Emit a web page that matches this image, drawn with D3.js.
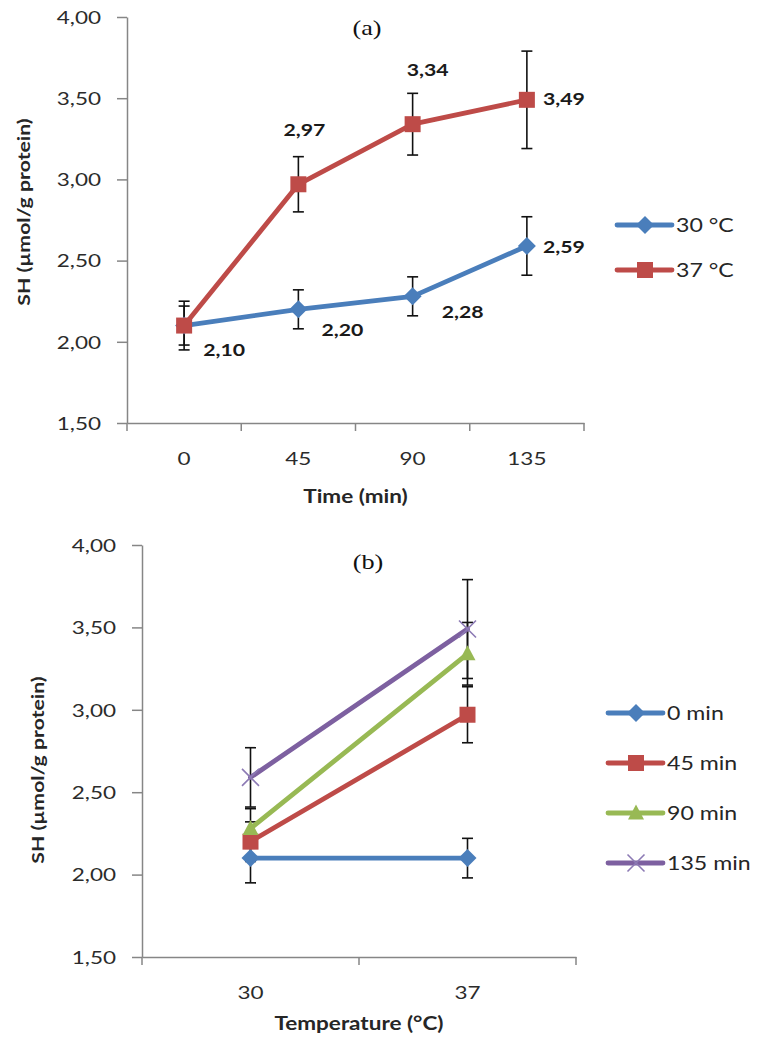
<!DOCTYPE html>
<html><head><meta charset="utf-8">
<script src="https://cdn.jsdelivr.net/npm/d3@7"></script>
<style>
body{margin:0;background:#fff}
svg{display:block}
text{font-family:Lato,"Open Sans",sans-serif;}
</style>
</head><body>
<svg id="c" width="761" height="1043"></svg>
<script>
// ---------- data ----------
const timeCats = ["0", "45", "90", "135"];
const series30C = [2.10, 2.20, 2.28, 2.59];
const series37C = [2.10, 2.97, 3.34, 3.49];
const err30C = [0.15, 0.12, 0.12, 0.18];
const err37C = [0.12, 0.17, 0.19, 0.30];
const show30C = [true, true, true, true];
const show37C = [false, true, true, true];

const tempCats = ["30", "37"];
const min0 = [2.10, 2.10];
const min45 = [2.20, 2.97];
const min90 = [2.28, 3.34];
const min135 = [2.59, 3.49];
const errMin0 = [0.15, 0.12];
const errMin45 = [0.12, 0.17];
const errMin90 = [0.12, 0.19];
const errMin135 = [0.18, 0.30];

const yTicks = [1.5, 2.0, 2.5, 3.0, 3.5, 4.0];
const yDomain = [1.5, 4.0];

// ---------- layout / style ----------
const SX = 1.25;
const C = {blue: "#4A7EBB", red: "#BE4B48", green: "#98B954", purple: "#7D60A0"};
const labelOffsets30C = [[19, 30], [23, 27], [29, 22], [16, 7]];
const labelOffsets37C = [null, [-15, -48], [-6, -48], [16, 5]];

const fmt = v => d3.format(".2f")(v).replace(".", ",");
const svg = d3.select("#c");

function stretch(sel) {
  sel.each(function () {
    const t = d3.select(this);
    const x = +t.attr("x") || 0, y = +t.attr("y") || 0;
    t.attr("x", null).attr("y", null)
     .attr("transform", `translate(${x},${y}) scale(${SX},1)`);
  });
}

function marker(g, type, x, y, color) {
  if (type === "diamond") {
    const r = 9;
    g.append("path").attr("d", `M${x},${y - r}L${x + r},${y}L${x},${y + r}L${x - r},${y}Z`).attr("fill", color);
  } else if (type === "square") {
    const s = 16;
    g.append("rect").attr("x", x - s / 2).attr("y", y - s / 2).attr("width", s).attr("height", s).attr("fill", color);
  } else if (type === "triangle") {
    g.append("path").attr("d", `M${x},${y - 8.5}L${x + 8},${y + 6.5}L${x - 8},${y + 6.5}Z`).attr("fill", color);
  } else if (type === "x") {
    const r = 8.5;
    g.append("path").attr("d", `M${x - r},${y - r}L${x + r},${y + r}M${x - r},${y + r}L${x + r},${y - r}`)
      .attr("stroke", "#8C7AB4").attr("stroke-width", 1.6).attr("fill", "none");
  }
}

function drawPanel(cfg) {
  const g = svg.append("g");
  const x = d3.scaleBand().domain(cfg.cats).range([cfg.x0, cfg.x1]);
  const y = d3.scaleLinear().domain(yDomain).range([cfg.y0, cfg.y1]);
  const axisColor = "#868686";

  // y axis
  const ya = g.append("g").attr("transform", `translate(${cfg.x0},0)`)
    .call(d3.axisLeft(y).tickValues(yTicks).tickFormat(fmt).tickSize(10).tickPadding(16).tickSizeOuter(0));
  ya.select(".domain").attr("stroke", axisColor).attr("stroke-width", 1.5);
  ya.selectAll(".tick line").attr("stroke", axisColor).attr("stroke-width", 1.5);
  ya.selectAll(".tick text").attr("font-size", 18).attr("fill", "#2b2b2b").attr("dy", "0.35em");
  stretch(ya.selectAll(".tick text"));

  // x axis
  const xa = g.append("g").attr("transform", `translate(0,${cfg.y0})`)
    .call(d3.axisBottom(x).tickSize(0).tickPadding(29).tickSizeOuter(0));
  xa.select(".domain").attr("stroke", axisColor).attr("stroke-width", 1.5);
  xa.selectAll(".tick text").attr("font-size", 18).attr("fill", "#2b2b2b");
  stretch(xa.selectAll(".tick text"));
  const bounds = cfg.cats.map(c => x(c)).concat([x(cfg.cats[cfg.cats.length - 1]) + x.bandwidth()]);
  xa.selectAll(".bt").data(bounds).enter().append("line")
    .attr("x1", d => d).attr("x2", d => d).attr("y1", 0).attr("y2", 8)
    .attr("stroke", axisColor).attr("stroke-width", 1.5);

  // axis titles
  g.append("text").attr("x", (cfg.x0 + cfg.x1) / 2).attr("y", cfg.y0 + cfg.xTitleDy)
    .attr("text-anchor", "middle").attr("font-size", 18).attr("font-weight", "bold").attr("fill", "#262626")
    .text(cfg.xTitle).call(stretch);
  g.append("text").attr("transform", `translate(${cfg.yTitleX},${cfg.yTitleY}) rotate(-90) scale(${SX},1)`)
    .attr("text-anchor", "middle").attr("dy", "0.35em").attr("font-size", 17).attr("font-weight", "bold").attr("fill", "#262626")
    .text("SH (µmol/g protein)");

  // panel label
  g.append("text").attr("x", cfg.plX).attr("y", cfg.plY).attr("text-anchor", "middle")
    .style("font-family", "'Liberation Serif','DejaVu Serif',serif").style("font-size", "21px").attr("fill", "#111")
    .text(cfg.panelLabel).call(stretch);

  const cx = c => x(c) + x.bandwidth() / 2;

  // error bars
  cfg.series.forEach(s => {
    s.values.forEach((v, i) => {
      const px = cx(cfg.cats[i]);
      const e = s.errs[i];
      g.append("line").attr("x1", px).attr("x2", px).attr("y1", y(v - e)).attr("y2", y(v + e))
        .attr("stroke", "#111").attr("stroke-width", 1.6);
      [v - e, v + e].forEach(t => g.append("line").attr("x1", px - 5.5).attr("x2", px + 5.5)
        .attr("y1", y(t)).attr("y2", y(t)).attr("stroke", "#111").attr("stroke-width", 1.6));
    });
  });

  // lines and markers
  cfg.series.forEach(s => {
    const pts = s.values.map((v, i) => [cx(cfg.cats[i]), y(v)]);
    g.append("path").attr("d", d3.line()(pts)).attr("fill", "none").attr("stroke", s.color)
      .attr("stroke-width", 4.8).attr("stroke-linejoin", "round").attr("stroke-linecap", "round");
    pts.forEach(p => marker(g, s.marker, p[0], p[1], s.color));
  });

  // data labels
  cfg.series.forEach(s => {
    if (!s.show) return;
    s.values.forEach((v, i) => {
      if (!s.show[i]) return;
      const o = s.offsets[i];
      g.append("text").attr("x", cx(cfg.cats[i]) + o[0]).attr("y", y(v) + o[1])
        .attr("font-size", 17).attr("font-weight", "bold").attr("fill", "#1a1a1a")
        .text(fmt(v)).call(stretch);
    });
  });

  // legend
  cfg.series.forEach((s, k) => {
    const ly = cfg.legY + k * cfg.legStep;
    const lg = g.append("g");
    lg.append("line").attr("x1", cfg.legX).attr("x2", cfg.legX + 55).attr("y1", ly).attr("y2", ly)
      .attr("stroke", s.color).attr("stroke-width", 4.8).attr("stroke-linecap", "round");
    marker(lg, s.marker, cfg.legX + 28, ly, s.color);
    lg.append("text").attr("x", cfg.legX + 59).attr("y", ly).attr("dy", "0.36em")
      .attr("font-size", 18.5).attr("fill", "#262626").text(s.name).call(stretch);
  });
}

drawPanel({
  cats: timeCats, x0: 127, x1: 584, y0: 423, y1: 17,
  xTitle: "Time (min)", xTitleDy: 80, yTitleX: 24, yTitleY: 212,
  panelLabel: "(a)", plX: 367, plY: 35,
  legX: 617, legY: 225, legStep: 45,
  series: [
    {name: "30 °C", values: series30C, errs: err30C, color: C.blue, marker: "diamond", show: show30C, offsets: labelOffsets30C},
    {name: "37 °C", values: series37C, errs: err37C, color: C.red, marker: "square", show: show37C, offsets: labelOffsets37C}
  ]
});

drawPanel({
  cats: tempCats, x0: 142, x1: 576, y0: 957, y1: 545,
  xTitle: "Temperature (°C)", xTitleDy: 73, yTitleX: 38, yTitleY: 770,
  panelLabel: "(b)", plX: 368, plY: 569,
  legX: 608, legY: 713, legStep: 50,
  series: [
    {name: "0 min", values: min0, errs: errMin0, color: C.blue, marker: "diamond"},
    {name: "45 min", values: min45, errs: errMin45, color: C.red, marker: "square"},
    {name: "90 min", values: min90, errs: errMin90, color: C.green, marker: "triangle"},
    {name: "135 min", values: min135, errs: errMin135, color: C.purple, marker: "x"}
  ]
});
</script>
</body></html>
